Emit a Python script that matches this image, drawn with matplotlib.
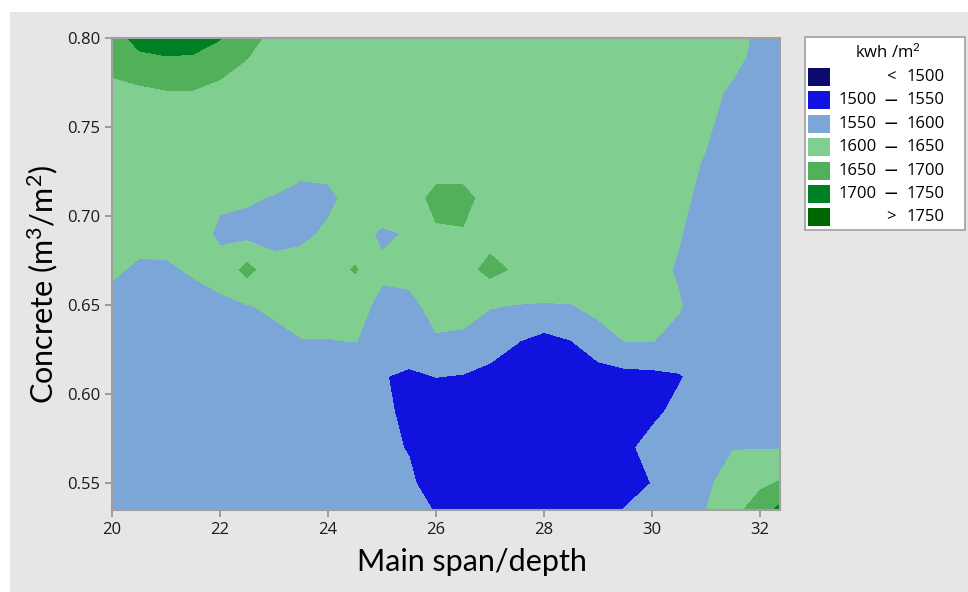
import numpy as np
import matplotlib
matplotlib.use('Agg')
import matplotlib.pyplot as plt
from matplotlib.patches import Rectangle

plt.rcParams['font.family'] = 'Open Sans'
plt.rcParams['mathtext.fontset'] = 'custom'
plt.rcParams['mathtext.rm'] = 'Lato'
plt.rcParams['mathtext.it'] = 'Lato:italic'

# grid: main span/depth (x) and concrete (y)
span = [20, 20.5, 21, 21.5, 22, 22.5, 23, 23.5, 24, 24.5, 25, 25.5, 26,
        26.5, 27, 27.5, 28, 28.5, 29, 29.5, 30, 30.5, 31, 31.5, 32, 32.5]
concrete = [0.53, 0.55, 0.57, 0.59, 0.61, 0.63, 0.65, 0.67, 0.69, 0.71,
            0.73, 0.75, 0.77, 0.79, 0.81]

# kwh/m2, one row per concrete value
energy = [
    [1580, 1580, 1580, 1580, 1580, 1580, 1580, 1578, 1575, 1572, 1568, 1562, 1552,
     1530, 1520, 1518, 1518, 1525, 1535, 1560, 1575, 1590, 1603, 1645, 1690, 1760],
    [1580, 1580, 1580, 1580, 1580, 1580, 1580, 1578, 1575, 1570, 1565, 1559, 1525,
     1515, 1510, 1510, 1510, 1512, 1518, 1530, 1551, 1575, 1590, 1625, 1640, 1660],
    [1580, 1580, 1580, 1580, 1580, 1580, 1580, 1578, 1575, 1568, 1562, 1547, 1520,
     1512, 1508, 1508, 1508, 1512, 1520, 1540, 1565, 1578, 1590, 1598, 1598, 1598],
    [1582, 1582, 1582, 1582, 1580, 1580, 1580, 1578, 1575, 1568, 1563, 1535, 1515,
     1510, 1508, 1505, 1505, 1508, 1512, 1520, 1540, 1562, 1580, 1585, 1588, 1590],
    [1585, 1585, 1585, 1583, 1582, 1580, 1578, 1575, 1572, 1565, 1553, 1540, 1551,
     1547, 1535, 1525, 1520, 1522, 1525, 1535, 1538, 1546, 1570, 1580, 1585, 1588],
    [1585, 1580, 1580, 1585, 1588, 1590, 1594, 1599, 1599, 1601, 1588, 1585, 1597,
     1596, 1575, 1552, 1535, 1549, 1585, 1601, 1601, 1590, 1580, 1578, 1580, 1582],
    [1592, 1585, 1585, 1590, 1594, 1599, 1604, 1612, 1612, 1612, 1592, 1592, 1610,
     1608, 1603, 1599, 1598, 1599, 1610, 1612, 1612, 1603, 1580, 1577, 1577, 1577],
    [1604, 1596, 1596, 1603, 1612, 1665, 1618, 1622, 1625, 1655, 1606, 1610, 1625,
     1630, 1665, 1642, 1625, 1625, 1625, 1625, 1615, 1595, 1578, 1575, 1575, 1575],
    [1615, 1609, 1610, 1615, 1594, 1585, 1582, 1588, 1609, 1615, 1594, 1603, 1643,
     1646, 1630, 1625, 1625, 1625, 1625, 1625, 1620, 1603, 1580, 1575, 1575, 1575],
    [1625, 1625, 1625, 1625, 1605, 1605, 1597, 1585, 1588, 1620, 1625, 1625, 1665,
     1665, 1630, 1625, 1625, 1625, 1625, 1625, 1625, 1608, 1590, 1575, 1575, 1572],
    [1625, 1625, 1625, 1625, 1625, 1625, 1625, 1615, 1618, 1625, 1625, 1625, 1625,
     1625, 1625, 1625, 1625, 1625, 1625, 1625, 1625, 1612, 1597, 1580, 1575, 1572],
    [1630, 1628, 1628, 1627, 1626, 1625, 1625, 1625, 1625, 1625, 1625, 1625, 1625,
     1625, 1625, 1625, 1625, 1625, 1625, 1625, 1625, 1620, 1605, 1585, 1575, 1570],
    [1630, 1640, 1648, 1648, 1635, 1630, 1625, 1625, 1625, 1625, 1625, 1625, 1625,
     1625, 1625, 1625, 1625, 1625, 1625, 1625, 1625, 1625, 1615, 1592, 1575, 1570],
    [1680, 1695, 1700, 1698, 1680, 1652, 1632, 1625, 1625, 1625, 1625, 1625, 1625,
     1625, 1625, 1625, 1625, 1625, 1625, 1625, 1625, 1625, 1625, 1615, 1585, 1575],
    [1700, 1730, 1745, 1745, 1725, 1680, 1650, 1630, 1625, 1625, 1625, 1625, 1625,
     1625, 1625, 1625, 1625, 1625, 1625, 1625, 1625, 1625, 1625, 1625, 1590, 1575],
]

levels = [1400, 1500, 1550, 1600, 1650, 1700, 1750, 1900]
colors = ['#0b0b6e', '#1212de', '#7ca6d8', '#80ce90', '#52b05b', '#008024', '#006600']
legend_rows = [('', '<', '1500'), ('1500', '—', '1550'), ('1550', '—', '1600'),
               ('1600', '—', '1650'), ('1650', '—', '1700'), ('1700', '—', '1750'),
               ('', '>', '1750')]

W, H = 968, 592


def px(x, y):
    # figure pixel (from top-left) -> figure fraction
    return x / W, 1 - y / H


fig = plt.figure(figsize=(W / 100, H / 100), dpi=100)
fig.patch.set_facecolor('white')
fig.add_artist(Rectangle((10 / W, 0), 1, 580 / H, transform=fig.transFigure,
                         facecolor='#e6e6e6', edgecolor='none', zorder=-10))

ax = fig.add_axes([112 / W, 1 - 510 / H, 668 / W, 472 / H])
ax.contourf(np.array(span), np.array(concrete), np.array(energy),
            levels=levels, colors=colors)
ax.set_xlim(20, 32.37)
ax.set_ylim(0.535, 0.80)
ax.set_xticks([20, 22, 24, 26, 28, 30, 32])
ax.set_yticks([0.55, 0.60, 0.65, 0.70, 0.75, 0.80])
ax.set_yticklabels(['0.55', '0.60', '0.65', '0.70', '0.75', '0.80'])
for s in ax.spines.values():
    s.set_color('#a0a0a0')
    s.set_linewidth(1.5)
ax.tick_params(direction='out', length=5, width=1.2, color='#909090',
               labelcolor='#1a1a1a', labelsize=12)
ax.set_xlabel('Main span/depth', fontsize=22, family='Lato')
ax.set_ylabel('Concrete (m$^3$/m$^2$)', fontsize=22, family='Lato')
ax.xaxis.set_label_coords(0.539, -0.08)
ax.yaxis.set_label_coords(-0.078, 0.477)

# legend box drawn by hand
fig.add_artist(Rectangle(px(805, 230), 160 / W, 193 / H, transform=fig.transFigure,
                         facecolor='white', edgecolor='#a0a0a0', linewidth=1.2))
fig.text(*px(888, 52), 'kwh /m$^2$', ha='center', va='center', fontsize=12)
for i, (lo, sep, hi) in enumerate(legend_rows):
    yc = 77 + i * 23.4
    fig.add_artist(Rectangle(px(808, yc + 9), 22 / W, 18 / H, transform=fig.transFigure,
                             facecolor=colors[i], edgecolor='none'))
    if lo:
        fig.text(*px(877, yc), lo, ha='right', va='center', fontsize=12)
    fig.text(*px(891, yc), sep, ha='center', va='center', fontsize=12 if sep != '—' else 9,
             fontweight='bold' if sep == '—' else 'normal')
    fig.text(*px(907, yc), hi, ha='left', va='center', fontsize=12)

fig.savefig('out.png', dpi=100)
